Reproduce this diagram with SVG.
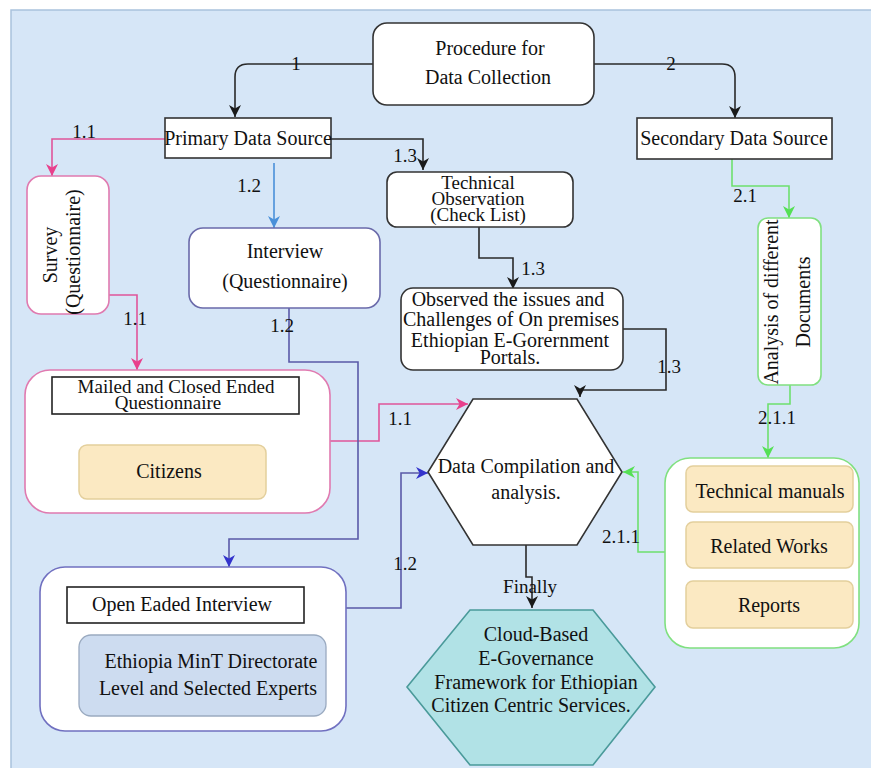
<svg xmlns="http://www.w3.org/2000/svg" width="871" height="768" viewBox="0 0 871 768">
<defs>
<style>
text{font-family:"Liberation Serif","Times New Roman",serif;font-size:20px;fill:#111;}
.c{text-anchor:middle;}
.lb{font-size:19px;}
.tt{font-size:19px;}
.ln{fill:none;stroke-width:1.6;}
.k{stroke:#2a2a2a;}
.pk{stroke:#e0559a;}
.bl{stroke:#4a90d9;}
.pu{stroke:#5a5aa8;}
.gr{stroke:#6ee06e;}
.box{fill:#fff;stroke:#333;stroke-width:1.6;}
.yel{fill:#fbe9c2;stroke:#e3cf9c;stroke-width:1.5;}
</style>
<marker id="mk" viewBox="0 0 10 10" refX="10" refY="5" markerWidth="12" markerHeight="12" markerUnits="userSpaceOnUse" orient="auto"><path d="M0,0L10,5L0,10L3,5z" fill="#1a1a1a"/></marker>
<marker id="mp" viewBox="0 0 10 10" refX="10" refY="5" markerWidth="12" markerHeight="12" markerUnits="userSpaceOnUse" orient="auto"><path d="M0,0L10,5L0,10L3,5z" fill="#e8408c"/></marker>
<marker id="mb" viewBox="0 0 10 10" refX="10" refY="5" markerWidth="12" markerHeight="12" markerUnits="userSpaceOnUse" orient="auto"><path d="M0,0L10,5L0,10L3,5z" fill="#4a90d9"/></marker>
<marker id="mu" viewBox="0 0 10 10" refX="10" refY="5" markerWidth="12" markerHeight="12" markerUnits="userSpaceOnUse" orient="auto"><path d="M0,0L10,5L0,10L3,5z" fill="#3333cc"/></marker>
<marker id="mg" viewBox="0 0 10 10" refX="10" refY="5" markerWidth="12" markerHeight="12" markerUnits="userSpaceOnUse" orient="auto"><path d="M0,0L10,5L0,10L3,5z" fill="#55e055"/></marker>
</defs>
<rect x="0" y="0" width="871" height="768" fill="#fff"/>
<rect x="11" y="10" width="870" height="770" fill="#d6e6f7" stroke="#a9c2dd" stroke-width="1.5"/>

<g id="connectors">
<path class="ln k" d="M373,64H248Q235,64 235,77V117" marker-end="url(#mk)"/>
<path class="ln k" d="M594,64H722Q735,64 735,77V118" marker-end="url(#mk)"/>
<path class="ln pk" d="M165,139H52V176" marker-end="url(#mp)"/>
<path class="ln pk" d="M109,295H137V370" marker-end="url(#mp)"/>
<path class="ln pk" d="M330,441H379V404H468" marker-end="url(#mp)"/>
<path class="ln bl" d="M274,163V228" marker-end="url(#mb)"/>
<path class="ln pu" d="M289,308V362H358V539H229V567" marker-end="url(#mu)"/>
<path class="ln pu" d="M346,608H401V473H428" marker-end="url(#mu)"/>
<path class="ln k" d="M331,139H423V170" marker-end="url(#mk)"/>
<path class="ln k" d="M479,227V258H513V289" marker-end="url(#mk)"/>
<path class="ln k" d="M623,329H666V390H580V397" marker-end="url(#mk)"/>
<path class="ln k" d="M526,545V577H532V608" marker-end="url(#mk)"/>
<path class="ln gr" d="M732,159V186H789V218" marker-end="url(#mg)"/>
<path class="ln gr" d="M790,385V404H768V458" marker-end="url(#mg)"/>
<path class="ln gr" d="M665,552H638V472H623" marker-end="url(#mg)"/>
<text x="296" y="70" class="c lb">1</text>
<text x="671" y="70" class="c lb">2</text>
<text x="84" y="138" class="c lb">1.1</text>
<text x="135" y="325" class="c lb">1.1</text>
<text x="400" y="425" class="c lb">1.1</text>
<text x="249" y="192" class="c lb">1.2</text>
<text x="282" y="332" class="c lb">1.2</text>
<text x="405" y="570" class="c lb">1.2</text>
<text x="405" y="162" class="c lb">1.3</text>
<text x="533" y="275" class="c lb">1.3</text>
<text x="669" y="373" class="c lb">1.3</text>
<text x="745" y="202" class="c lb">2.1</text>
<text x="777" y="424" class="c lb">2.1.1</text>
<text x="621" y="543" class="c lb">2.1.1</text>
<text x="530" y="593" class="c lb">Finally</text>
</g>

<g id="procedure">
<rect x="373" y="23" width="221" height="82" rx="14" class="box"/>
<text x="490" y="55" class="c">Procedure for</text>
<text x="488" y="84" class="c">Data Collection</text>
</g>

<g id="primary">
<rect x="165" y="118" width="166" height="40" class="box"/>
<text x="248" y="145" class="c">Primary Data Source</text>
</g>

<g id="secondary">
<rect x="637" y="118" width="195" height="41" class="box"/>
<text x="734" y="145" class="c">Secondary Data Source</text>
</g>

<g id="survey">
<rect x="27" y="176" width="82" height="138" rx="14" fill="#fff" stroke="#e07ab0" stroke-width="1.6"/>
<text class="c" transform="translate(57,255) rotate(-90)">Survey</text>
<text class="c" transform="translate(80,252) rotate(-90)">(Questionnaire)</text>
</g>

<g id="interview">
<rect x="189" y="228" width="191" height="80" rx="14" fill="#fff" stroke="#6a6aaa" stroke-width="1.6"/>
<text x="285" y="258" class="c">Interview</text>
<text x="285" y="288" class="c">(Questionnaire)</text>
</g>

<g id="technical">
<rect x="387" y="172" width="186" height="55" rx="10" class="box"/>
<text x="478" y="189" class="c tt">Technical</text>
<text x="478" y="205" class="c tt">Observation</text>
<text x="478" y="221" class="c tt">(Check List)</text>
</g>

<g id="observed">
<rect x="401" y="288" width="222" height="82" rx="12" class="box"/>
<text x="508" y="306" class="c">Observed the issues and</text>
<text x="511" y="326" class="c">Challenges of On premises</text>
<text x="510" y="347" class="c">Ethiopian E-Gorernment</text>
<text x="510" y="364" class="c">Portals.</text>
</g>

<g id="analysis">
<rect x="758" y="218" width="63" height="167" rx="10" fill="#fff" stroke="#80e080" stroke-width="1.6"/>
<text class="c" transform="translate(778,302) rotate(-90)">Analysis of different</text>
<text class="c" transform="translate(810,302) rotate(-90)">Documents</text>
</g>

<g id="mailed">
<rect x="25" y="370" width="305" height="143" rx="25" fill="#fff" stroke="#e07ab0" stroke-width="1.6"/>
<rect x="52" y="377" width="247" height="37" fill="#fff" stroke="#222" stroke-width="1.6"/>
<text x="176" y="393" class="c tt">Mailed and Closed Ended</text>
<text x="168" y="409" class="c tt">Questionnaire</text>
<rect x="79" y="445" width="187" height="54" rx="8" class="yel"/>
<text x="169" y="478" class="c">Citizens</text>
</g>

<g id="compilation">
<polygon points="473,399 577,399 622,472 577,545 473,545 428,472" fill="#fff" stroke="#333" stroke-width="1.6"/>
<text x="526" y="473" class="c">Data Compilation and</text>
<text x="526" y="499" class="c">analysis.</text>
</g>

<g id="documents">
<rect x="665" y="458" width="194" height="190" rx="25" fill="#fff" stroke="#80e080" stroke-width="1.6"/>
<rect x="686" y="466" width="167" height="46" rx="7" class="yel"/>
<text x="770" y="498" class="c">Technical manuals</text>
<rect x="686" y="522" width="167" height="46" rx="7" class="yel"/>
<text x="769" y="553" class="c">Related Works</text>
<rect x="686" y="581" width="167" height="47" rx="7" class="yel"/>
<text x="769" y="612" class="c">Reports</text>
</g>

<g id="openinterview">
<rect x="40" y="567" width="306" height="164" rx="25" fill="#fff" stroke="#7070c0" stroke-width="1.6"/>
<rect x="67" y="587" width="237" height="36" fill="#fff" stroke="#222" stroke-width="1.6"/>
<text x="182" y="611" class="c">Open Eaded Interview</text>
<rect x="79" y="635" width="247" height="81" rx="12" fill="#cddcf0" stroke="#9aaac0" stroke-width="1.3"/>
<text x="211" y="668" class="c">Ethiopia MinT Directorate</text>
<text x="208" y="695" class="c">Level and Selected Experts</text>
</g>

<g id="cloud">
<polygon points="470,610 593,610 655,687 593,765 470,765 407,687" fill="#b1e2e6" stroke="#4a9a9a" stroke-width="1.6"/>
<text x="536" y="641" class="c">Cloud-Based</text>
<text x="536" y="665" class="c">E-Governance</text>
<text x="536" y="689" class="c">Framework for Ethiopian</text>
<text x="531" y="712" class="c">Citizen Centric Services.</text>
</g>
</svg>
